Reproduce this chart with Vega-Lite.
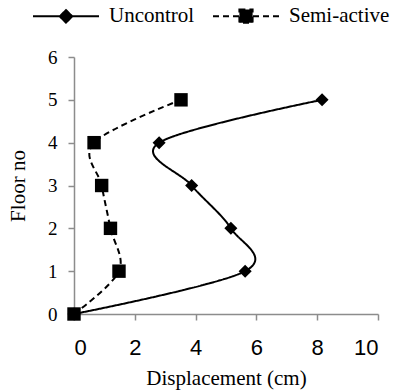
{
  "$schema": "https://vega.github.io/schema/vega-lite/v6.json",
  "autosize": "none",
  "width": 304,
  "height": 257,
  "padding": {"left": 74, "top": 57, "right": 19, "bottom": 78},
  "background": "white",
  "data": {
    "values": [
      {"series": "Uncontrol", "disp": 0, "floor": 0},
      {"series": "Uncontrol", "disp": 5.63, "floor": 1},
      {"series": "Uncontrol", "disp": 5.16, "floor": 2},
      {"series": "Uncontrol", "disp": 3.87, "floor": 3},
      {"series": "Uncontrol", "disp": 2.8, "floor": 4},
      {"series": "Uncontrol", "disp": 8.16, "floor": 5},
      {"series": "Semi-active", "disp": 0, "floor": 0},
      {"series": "Semi-active", "disp": 1.48, "floor": 1},
      {"series": "Semi-active", "disp": 1.2, "floor": 2},
      {"series": "Semi-active", "disp": 0.91, "floor": 3},
      {"series": "Semi-active", "disp": 0.66, "floor": 4},
      {"series": "Semi-active", "disp": 3.52, "floor": 5}
    ]
  },
  "config": {
    "view": {"stroke": null},
    "axis": {
      "domainColor": "#8c8c8c",
      "tickColor": "#8c8c8c",
      "domainWidth": 1.5,
      "tickWidth": 1.5,
      "tickSize": 6,
      "grid": false,
      "labelColor": "black",
      "titleColor": "black",
      "titleFont": "Liberation Serif",
      "titleFontSize": 21,
      "titleFontWeight": "normal"
    }
  },
  "encoding": {
    "x": {
      "field": "disp",
      "type": "quantitative",
      "scale": {"domain": [0, 10], "nice": false},
      "axis": {
        "title": "Displacement (cm)",
        "values": [0, 2, 4, 6, 8, 10],
        "labelFont": "Liberation Sans",
        "labelFontSize": 22,
        "labelPadding": 17,
        "titlePadding": 9
      }
    },
    "y": {
      "field": "floor",
      "type": "quantitative",
      "scale": {"domain": [0, 6], "nice": false},
      "axis": {
        "title": "Floor no",
        "values": [0, 1, 2, 3, 4, 5, 6],
        "labelFont": "Liberation Serif",
        "labelFontSize": 19,
        "labelPadding": 11,
        "titlePadding": 19
      }
    }
  },
  "layer": [
    {
      "mark": {"type": "line", "interpolate": "cardinal", "tension": 0, "color": "black", "strokeWidth": 2},
      "encoding": {
        "order": {"field": "floor"},
        "detail": {"field": "series"},
        "strokeDash": {
          "field": "series",
          "type": "nominal",
          "scale": {"domain": ["Uncontrol", "Semi-active"], "range": [[1, 0], [6, 4]]}
        }
      }
    },
    {
      "transform": [{"filter": "datum.series === 'Uncontrol'"}],
      "mark": {"type": "point", "shape": "diamond", "filled": true, "opacity": 1, "color": "black", "size": 170}
    },
    {
      "transform": [{"filter": "datum.series === 'Semi-active'"}],
      "mark": {"type": "point", "shape": "square", "filled": true, "opacity": 1, "color": "black", "size": 180}
    },
    {
      "mark": {"type": "point", "filled": true, "opacity": 1, "color": "black", "size": 0},
      "encoding": {
        "shape": {
          "field": "series",
          "type": "nominal",
          "scale": {
            "domain": ["Uncontrol", "Semi-active"],
            "range": [
              "M-1,0H1M0,-0.19L0.19,0L0,0.19L-0.19,0Z",
              "M-1,0H1M-0.2,-0.2H0.2V0.2H-0.2Z"
            ]
          },
          "legend": {
            "title": null,
            "orient": "none",
            "direction": "horizontal",
            "legendX": -42,
            "legendY": -75,
            "padding": 0,
            "labelFont": "Liberation Serif",
            "labelFontSize": 21,
            "labelColor": "black",
            "symbolSize": 4356,
            "symbolFillColor": "black",
            "symbolStrokeColor": "black",
            "symbolStrokeWidth": 2,
            "symbolOpacity": 1,
            "columnPadding": 14,
            "labelOffset": 9
          }
        }
      }
    }
  ]
}
